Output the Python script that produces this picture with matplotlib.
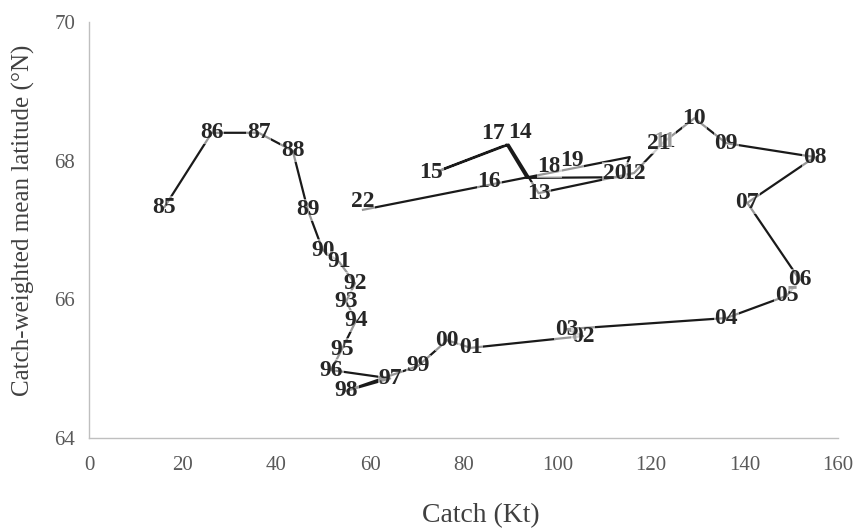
import matplotlib
matplotlib.use("Agg")
import matplotlib.pyplot as plt

# catch (Kt) and catch-weighted mean latitude by year, 1985-2022
years = ['85', '86', '87', '88', '89', '90', '91', '92', '93', '94',
         '95', '96', '97', '98', '99', '00', '01', '02', '03', '04',
         '05', '06', '07', '08', '09', '10', '11', '12', '13', '14',
         '15', '16', '17', '18', '19', '20', '21', '22']
catch = [16.1, 26.2, 36.2, 43.5, 46.7, 49.9, 53.4, 56.8, 54.9, 57.0,
         54.0, 51.7, 64.3, 54.9, 70.3, 76.5, 81.5, 105.5, 102.0, 136.1,
         149.0, 151.8, 140.6, 155.0, 136.1, 129.3, 122.8, 116.4, 96.0, 89.6,
         74.8, 75.7, 89.2, 93.5, 114.7, 114.3, 115.5, 58.5]
latitude = [67.33, 68.40, 68.40, 68.14, 67.29, 66.71, 66.54, 66.23, 65.97, 65.69,
            65.28, 64.98, 64.86, 64.68, 65.04, 65.41, 65.30, 65.47, 65.57, 65.73,
            66.05, 66.28, 67.39, 68.05, 68.25, 68.61, 68.27, 67.82, 67.53, 68.23,
            67.85, 67.88, 68.23, 67.75, 67.76, 67.86, 68.05, 67.29]

# labels that were moved away from their point (offset in points)
label_shift = {'14': (8, 9), '15': (-6, -1), '16': (33, -9), '17': (-10, 8),
               '18': (16, 8), '19': (-39, 12), '20': (-7, -2), '21': (21, 10),
               '22': (0, 6)}

serif = ['Liberation Serif', 'DejaVu Serif']

fig = plt.figure(figsize=(8.57, 5.31), dpi=100)
ax = fig.add_axes([0.104, 0.175, 0.874, 0.784])

ax.plot(catch, latitude, color='#1a1a1a', linewidth=1.6, zorder=2)

for i, (lab, x, y) in enumerate(zip(years, catch, latitude)):
    dx, dy = label_shift.get(lab, (0, 0))
    ax.annotate(lab, (x, y), xytext=(dx, dy), textcoords='offset points',
                ha='center', va='center', fontsize=17, fontweight='bold',
                family=serif, color='#262626', zorder=3 + i,
                bbox=dict(boxstyle='square,pad=0.03', fc='white', ec='none', alpha=0.55))

ax.set_xlim(0, 160)
ax.set_ylim(64, 70)
ax.set_xticks(range(0, 161, 20))
ax.set_yticks([64, 66, 68, 70])

for s in ['top', 'right']:
    ax.spines[s].set_visible(False)
for s in ['left', 'bottom']:
    ax.spines[s].set_color('#bfbfbf')
    ax.spines[s].set_linewidth(1.0)

ax.tick_params(length=0, labelsize=15, labelcolor='#595959')
ax.tick_params(axis='x', pad=13)
ax.tick_params(axis='y', pad=10)
for t in ax.get_xticklabels() + ax.get_yticklabels():
    t.set_family(serif)

ax.set_xlabel('Catch (Kt)', fontsize=20, family=serif, color='#404040')
ax.set_ylabel('Catch-weighted mean latitude (°N)', fontsize=18, family=serif,
              color='#404040')
ax.xaxis.set_label_coords(0.523, -0.155)
ax.yaxis.set_label_coords(-0.072, 0.524)

fig.savefig('out.png', dpi=100)
